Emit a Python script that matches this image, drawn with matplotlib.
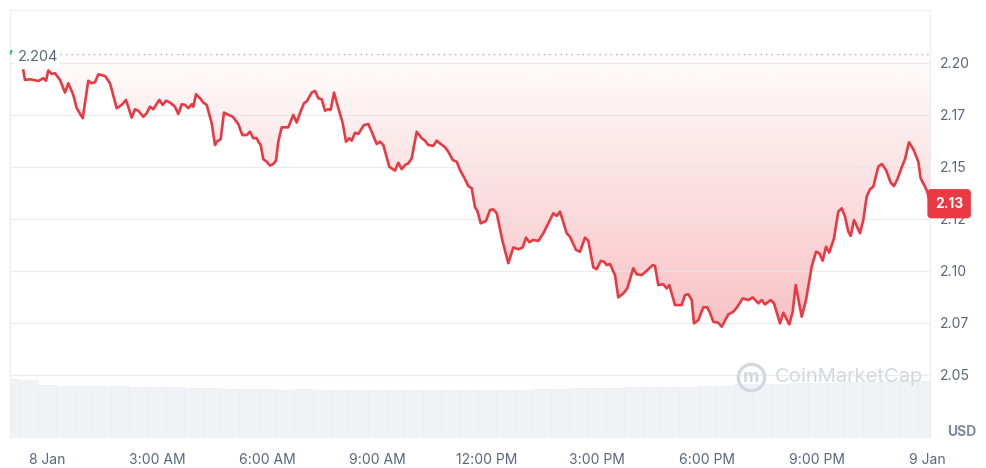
import numpy as np
import matplotlib
matplotlib.use("Agg")
import matplotlib.pyplot as plt
from matplotlib.lines import Line2D
from matplotlib.colors import to_rgb
import matplotlib.transforms as mtransforms

plt.rcParams['font.family'] = ['Inter', 'DejaVu Sans']

# hours since 8 Jan 00:00, and price in USD
hours = [
    -0.646, -0.600, -0.464, -0.237, -0.101, -0.027, 0.035, 0.128, 0.218, 0.355,
    0.491, 0.581, 0.717, 0.810, 0.974, 1.126, 1.219, 1.309, 1.399, 1.582,
    1.718, 1.901, 2.037, 2.155, 2.310, 2.400, 2.490, 2.626, 2.719, 2.809,
    2.899, 3.063, 3.155, 3.245, 3.355, 3.491, 3.581, 3.674, 3.764, 3.854,
    3.946, 3.990, 4.064, 4.173, 4.263, 4.355, 4.492, 4.582, 4.628, 4.737,
    4.827, 4.945, 5.065, 5.217, 5.326, 5.446, 5.536, 5.626, 5.719, 5.763,
    5.828, 5.899, 5.992, 6.082, 6.172, 6.245, 6.308, 6.401, 6.581, 6.717,
    6.810, 6.900, 7.009, 7.083, 7.219, 7.309, 7.399, 7.492, 7.582, 7.672,
    7.737, 7.827, 7.945, 8.065, 8.155, 8.245, 8.310, 8.400, 8.490, 8.645,
    8.763, 8.855, 8.992, 9.082, 9.172, 9.335, 9.491, 9.581, 9.674, 9.764,
    9.854, 9.946, 10.083, 10.219, 10.309, 10.399, 10.536, 10.628, 10.718, 10.855,
    10.945, 11.065, 11.174, 11.264, 11.373, 11.490, 11.583, 11.673, 11.736, 11.828,
    11.973, 12.082, 12.172, 12.265, 12.428, 12.581, 12.717, 12.854, 12.974, 13.064,
    13.154, 13.263, 13.399, 13.536, 13.672, 13.808, 13.901, 13.991, 14.174, 14.264,
    14.427, 14.536, 14.673, 14.763, 14.899, 14.992, 15.101, 15.191, 15.265, 15.355,
    15.491, 15.581, 15.717, 15.826, 15.990, 16.083, 16.219, 16.355, 16.519, 16.582,
    16.672, 16.808, 16.901, 16.972, 17.127, 17.310, 17.400, 17.490, 17.583, 17.645,
    17.763, 17.899, 18.008, 18.082, 18.172, 18.308, 18.401, 18.581, 18.717, 18.810,
    18.974, 19.126, 19.246, 19.399, 19.492, 19.582, 19.737, 19.827, 19.991, 20.081,
    20.245, 20.337, 20.419, 20.583, 20.700, 20.855, 20.973, 21.063, 21.155, 21.245,
    21.335, 21.464, 21.581, 21.674, 21.764, 21.854, 21.919, 22.009, 22.173, 22.263,
    22.355, 22.445, 22.535, 22.672, 22.765, 22.882, 23.010, 23.100, 23.190, 23.310,
    23.400, 23.509, 23.626, 23.763, 23.828, 23.945, 24.008, 24.082,
]
price = [
    2.1962, 2.1917, 2.1920, 2.1912, 2.1925, 2.1913, 2.1962, 2.1946, 2.1949, 2.1917,
    2.1856, 2.1901, 2.1845, 2.1781, 2.1733, 2.1913, 2.1901, 2.1906, 2.1944, 2.1936,
    2.1901, 2.1781, 2.1797, 2.1821, 2.1736, 2.1776, 2.1769, 2.1740, 2.1757, 2.1788,
    2.1776, 2.1821, 2.1797, 2.1817, 2.1808, 2.1788, 2.1753, 2.1800, 2.1797, 2.1781,
    2.1800, 2.1788, 2.1848, 2.1829, 2.1808, 2.1797, 2.1709, 2.1604, 2.1620, 2.1632,
    2.1760, 2.1749, 2.1740, 2.1705, 2.1652, 2.1652, 2.1668, 2.1637, 2.1637, 2.1620,
    2.1604, 2.1536, 2.1524, 2.1505, 2.1513, 2.1529, 2.1620, 2.1689, 2.1689, 2.1749,
    2.1712, 2.1757, 2.1805, 2.1813, 2.1856, 2.1864, 2.1829, 2.1824, 2.1769, 2.1776,
    2.1773, 2.1856, 2.1781, 2.1709, 2.1620, 2.1637, 2.1625, 2.1663, 2.1657, 2.1700,
    2.1705, 2.1668, 2.1609, 2.1620, 2.1604, 2.1500, 2.1481, 2.1519, 2.1488, 2.1508,
    2.1516, 2.1540, 2.1668, 2.1637, 2.1625, 2.1604, 2.1600, 2.1625, 2.1612, 2.1593,
    2.1572, 2.1532, 2.1524, 2.1484, 2.1449, 2.1407, 2.1396, 2.1305, 2.1288, 2.1228,
    2.1239, 2.1292, 2.1295, 2.1276, 2.1139, 2.1036, 2.1112, 2.1103, 2.1112, 2.1159,
    2.1137, 2.1148, 2.1143, 2.1180, 2.1228, 2.1276, 2.1263, 2.1284, 2.1180, 2.1163,
    2.1100, 2.1091, 2.1159, 2.1144, 2.1016, 2.1007, 2.1047, 2.1043, 2.1027, 2.1032,
    2.0979, 2.0872, 2.0891, 2.0915, 2.1012, 2.0983, 2.0979, 2.1000, 2.1027, 2.1023,
    2.0931, 2.0935, 2.0915, 2.0931, 2.0835, 2.0835, 2.0883, 2.0887, 2.0859, 2.0747,
    2.0763, 2.0824, 2.0824, 2.0797, 2.0755, 2.0750, 2.0731, 2.0790, 2.0803, 2.0822,
    2.0867, 2.0859, 2.0872, 2.0843, 2.0859, 2.0838, 2.0859, 2.0843, 2.0747, 2.0798,
    2.0742, 2.0803, 2.0931, 2.0779, 2.0859, 2.1019, 2.1091, 2.1084, 2.1048, 2.1115,
    2.1087, 2.1156, 2.1284, 2.1300, 2.1260, 2.1188, 2.1167, 2.1244, 2.1180, 2.1244,
    2.1356, 2.1391, 2.1404, 2.1500, 2.1513, 2.1484, 2.1423, 2.1407, 2.1439, 2.1497,
    2.1536, 2.1617, 2.1584, 2.1524, 2.1444, 2.1404, 2.1380, 2.1327,
]

# volume, one bar per half hour
vol_hours = [h * 0.5 for h in range(-2, 49)]
volume = [
    59, 58, 53, 52, 52, 52, 52, 51, 51, 51, 50, 50, 49, 49, 49, 48, 49, 48, 48, 48,
    48, 48, 48, 48, 48, 48, 48, 48, 48, 49, 49, 50, 50, 50, 51, 51, 51, 51, 52, 52,
    54, 54, 54, 55, 55, 55, 56, 56, 57, 57, 57,
]

open_price = 2.204
last_price = 2.13
tick_vals = [2.200, 2.175, 2.150, 2.125, 2.100, 2.075, 2.050]
tick_labels = ['2.20', '2.17', '2.15', '2.12', '2.10', '2.07', '2.05']
xtick_hours = [0, 3, 6, 9, 12, 15, 18, 21, 24]
xtick_labels = ['8 Jan', '3:00 AM', '6:00 AM', '9:00 AM', '12:00 PM',
                '3:00 PM', '6:00 PM', '9:00 PM', '9 Jan']

RED = '#ea3943'
GREY = '#58667e'

fig = plt.figure(figsize=(9.87, 4.68), dpi=100)
ax = fig.add_axes([10 / 987, 30 / 468, 920 / 987, 428 / 468])
ax.set_xlim(-1.009, 24.082)
ax.set_ylim(2.0196, 2.2253)

# volume bars on their own axis at the bottom
axv = ax.twinx()
axv.set_ylim(0, 428)
axv.bar(vol_hours, volume, width=0.5, color='#f0f2f5', edgecolor='#e8ebef',
        linewidth=0.4, align='center', zorder=1)
axv.set_yticks([])
for s in axv.spines.values():
    s.set_visible(False)
ax.set_zorder(axv.get_zorder() + 1)
ax.patch.set_visible(False)

# gradient fill between the open price and the line
poly = ax.fill_between(hours, price, open_price, color='none', lw=0)
rgb = to_rgb(RED)
ys = np.linspace(0, 1, 256)[:, None]
alpha = np.clip((2.204 - (2.0196 + ys * (2.2253 - 2.0196))) / (2.204 - 2.07), 0, 1.2) * 0.30 + 0.015
img = np.zeros((256, 1, 4))
img[..., 0], img[..., 1], img[..., 2] = rgb
img[..., 3] = alpha
im = ax.imshow(img, aspect='auto', origin='lower',
               extent=[-1.009, 24.082, 2.0196, 2.2253], zorder=2)
im.set_clip_path(poly.get_paths()[0], transform=ax.transData)

for v in tick_vals:
    ax.axhline(v, color='#e3e7ec', lw=0.9, alpha=0.8, zorder=3)
ax.axhline(open_price, color='#a6b0c3', lw=1.0, ls=(0, (1, 3)), zorder=3)

ax.plot(hours, price, color=RED, lw=1.9, zorder=5, solid_joinstyle='round')

ax.yaxis.tick_right()
ax.set_yticks(tick_vals)
ax.set_yticklabels(tick_labels)
ax.set_xticks(xtick_hours)
ax.set_xticklabels(xtick_labels)
ax.tick_params(axis='y', length=0, pad=7, labelsize=10, labelcolor=GREY)
ax.tick_params(axis='x', length=0, pad=11, labelsize=10, labelcolor=GREY)
for s in ax.spines.values():
    s.set_color('#eceff3')
    s.set_linewidth(0.9)
ax.spines['bottom'].set_visible(False)

# open price label
ax.text(-0.80, 2.2025, '2.204', fontsize=10.5, color=GREY, va='center', ha='left',
        zorder=6, bbox=dict(boxstyle='square,pad=0.15', fc='white', ec='none'))
ax.plot([-0.99, -0.97], [2.2048, 2.2056], color='#16c784', lw=1.5, zorder=6,
        clip_on=False)

# last price tag
trans = mtransforms.blended_transform_factory(ax.transAxes, ax.transData)
ax.text(1.0 + 5 / 920, 2.1322, f'{last_price:.2f}', transform=trans, fontsize=10,
        fontweight='bold', color='white', ha='left', va='center', zorder=7,
        bbox=dict(boxstyle='round,pad=0.55,rounding_size=0.3', fc=RED, ec='none'))

fig.text(947 / 987, 1 - 432 / 468, 'USD', fontsize=10, fontweight='bold',
         color='#808a9d', ha='left', va='center')

# watermark
wm_y = 1 - 377 / 468
fig.add_artist(Line2D([751 / 987], [wm_y], transform=fig.transFigure, marker='o',
                      markersize=19, mfc='none', mec='#d3d8e0', mew=2.4, zorder=4))
fig.text(751 / 987, wm_y, 'm', fontsize=13, fontweight='bold', color='#d3d8e0',
         ha='center', va='center')
fig.text(775 / 987, wm_y, 'CoinMarketCap', fontsize=14.5, color='#d3d8e0',
         ha='left', va='center')

fig.savefig('out.png', dpi=100)
